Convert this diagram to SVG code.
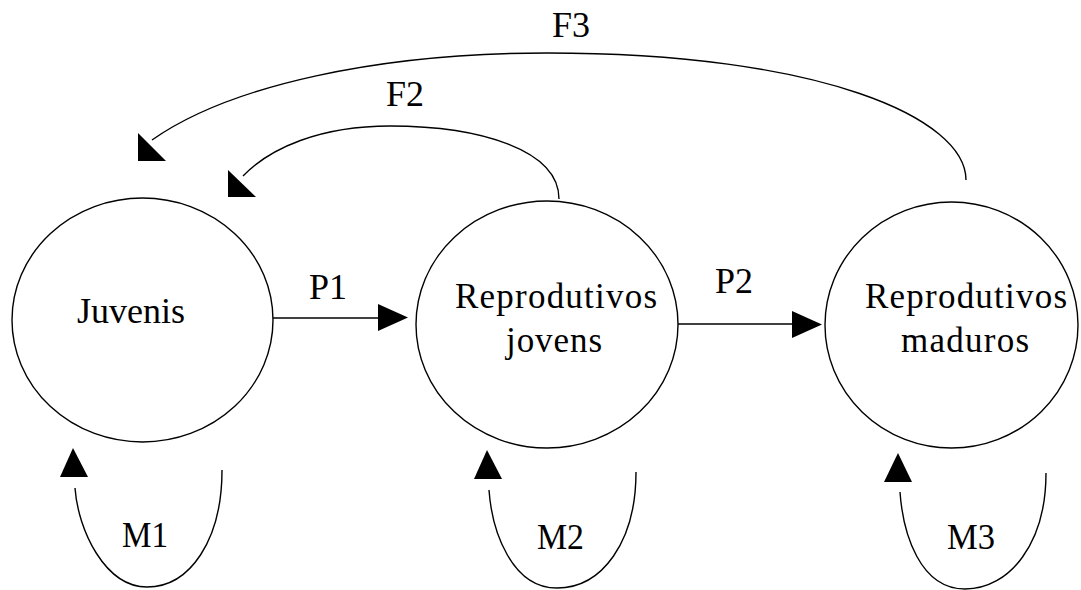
<svg xmlns="http://www.w3.org/2000/svg" width="1081" height="590" viewBox="0 0 1081 590">
<style>
.node{fill:#fff;stroke:#000;stroke-width:1.4}
.edge{fill:none;stroke:#000;stroke-width:1.4}
.head{fill:#000;stroke:none}
text{font-family:"Liberation Serif","Times New Roman",serif;font-size:35px;fill:#000}
</style>
<rect width="1081" height="590" fill="#fff"/>
<g id="node-juvenis">
<ellipse class="node" cx="142.5" cy="320" rx="130.5" ry="122"/>
<text x="77" y="323" textLength="108" lengthAdjust="spacingAndGlyphs">Juvenis</text>
</g>
<g id="node-reprodutivos-jovens">
<ellipse class="node" cx="547" cy="324.5" rx="131" ry="123.5"/>
<text x="455" y="308" textLength="202" lengthAdjust="spacing">Reprodutivos</text>
<text x="506" y="352" textLength="96" lengthAdjust="spacing">jovens</text>
</g>
<g id="node-reprodutivos-maduros">
<ellipse class="node" cx="951.5" cy="325" rx="126.5" ry="123"/>
<text x="865" y="308" textLength="202" lengthAdjust="spacing">Reprodutivos</text>
<text x="901" y="352" textLength="128" lengthAdjust="spacing">maduros</text>
</g>
<g id="connectors">
<!-- P1 -->
<line class="edge" x1="273" y1="318" x2="380" y2="318"/>
<polygon class="head" points="378,304 378,331 408,317.5"/>
<text x="309" y="299" textLength="38" lengthAdjust="spacingAndGlyphs">P1</text>
<!-- P2 -->
<line class="edge" x1="678" y1="324" x2="794" y2="324"/>
<polygon class="head" points="792,311 792,338 822,324.5"/>
<text x="715" y="293" textLength="38" lengthAdjust="spacingAndGlyphs">P2</text>
<!-- F2 -->
<path class="edge" d="M559,199 C559,150 480,126 390,126 C320,126 270,148 243,176"/>
<polygon class="head" points="228,170 228,197 256,197"/>
<text x="386" y="106" textLength="38" lengthAdjust="spacingAndGlyphs">F2</text>
<!-- F3 -->
<path class="edge" d="M966,180 C966,118 820,53 547,53 C380,53 230,85 152,140"/>
<polygon class="head" points="138,133 138,161 166,161"/>
<text x="552" y="37" textLength="38" lengthAdjust="spacingAndGlyphs">F3</text>
<!-- M1 -->
<path class="edge" d="M222,470 C222,540 190,587 147,587 C105,587 78,530 75,488"/>
<polygon class="head" points="73,448 60,477 88,477"/>
<text x="122" y="547" textLength="46" lengthAdjust="spacingAndGlyphs">M1</text>
<!-- M2 -->
<path class="edge" d="M636,472 C636,542 602,588 557,588 C512,588 492,532 489,490"/>
<polygon class="head" points="487,450 474,479 502,479"/>
<text x="537" y="549" textLength="47" lengthAdjust="spacingAndGlyphs">M2</text>
<!-- M3 -->
<path class="edge" d="M1046,473 C1046,543 1010,589 965,589 C920,589 903,534 900,492"/>
<polygon class="head" points="898,453 884,482 912,482"/>
<text x="947" y="549" textLength="48" lengthAdjust="spacingAndGlyphs">M3</text>
</g>
</svg>
